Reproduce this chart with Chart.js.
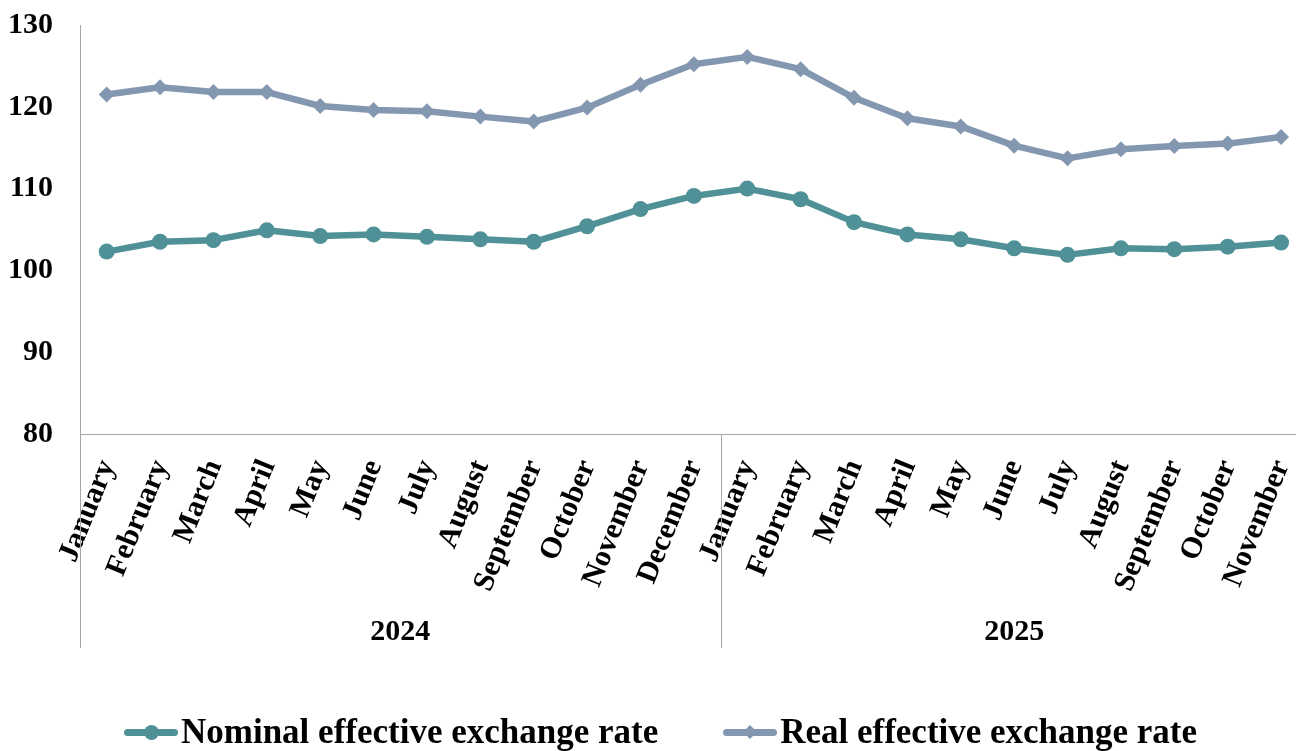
<!DOCTYPE html>
<html lang="en">
<head>
    <meta charset="UTF-8">
    <title>Effective exchange rates</title>
    <script src="https://cdn.jsdelivr.net/npm/chart.js"></script>
    <style>
        html, body {
            margin: 0;
            padding: 0;
            background: #ffffff;
        }
        #wrap {
            position: relative;
            width: 1296px;
            height: 751px;
            overflow: hidden;
        }
        #legend {
            position: absolute;
            left: 124px;
            top: 710px;
            display: flex;
            align-items: center;
            font-family: 'Liberation Serif', 'Times New Roman', serif;
            font-weight: bold;
            font-size: 35px;
            line-height: 44px;
            color: #000;
            white-space: nowrap;
        }
        .item {
            display: flex;
            align-items: center;
            margin-right: 65px;
        }
        .sample {
            position: relative;
            width: 54px;
            height: 16px;
            margin-right: 3px;
        }
        .sample .line {
            position: absolute;
            left: 0;
            right: 0;
            top: 4.5px;
            height: 7px;
            border-radius: 3.5px;
        }
        .sample .dot {
            position: absolute;
            left: 19.5px;
            top: 0.5px;
            width: 15px;
            height: 15px;
            border-radius: 50%;
        }
        .sample .diamond {
            position: absolute;
            left: 22px;
            top: 3px;
            width: 10px;
            height: 10px;
            transform: rotate(45deg);
        }
    </style>
</head>
<body>
<div id="wrap">
    <canvas id="rates-chart" width="1296" height="751"></canvas>
    <div id="legend"></div>
</div>

<script>
    // month labels, grouped by year
    const months2024 = ['January', 'February', 'March', 'April', 'May', 'June', 'July',
        'August', 'September', 'October', 'November', 'December'];
    const months2025 = ['January', 'February', 'March', 'April', 'May', 'June', 'July',
        'August', 'September', 'October', 'November'];
    const years = ['2024', '2025'];
    const monthLabels = [...months2024, ...months2025];

    const nominalRate = [102.3, 103.5, 103.7, 104.9, 104.2, 104.4, 104.1, 103.8, 103.5, 105.4, 107.5, 109.1,
        110.0, 108.7, 105.9, 104.4, 103.8, 102.7, 101.9, 102.7, 102.6, 102.9, 103.4];
    const realRate = [121.5, 122.4, 121.8, 121.8, 120.1, 119.6, 119.45, 118.8, 118.2, 119.9, 122.7, 125.2,
        126.1, 124.6, 121.1, 118.6, 117.6, 115.25, 113.7, 114.8, 115.2, 115.5, 116.3];

    const yTicks = [80, 90, 100, 110, 120, 130];

    const NOMINAL_COLOR = '#4f9197';
    const REAL_COLOR = '#8497b0';
    const AXIS_COLOR = '#a6a6a6';
    const FONT = "'Liberation Serif', 'Times New Roman', serif";

    // month index -> point; the right end of the plot runs past the picture edge
    const toPoints = arr => arr.map((v, i) => ({ x: i, y: v }));
    const X_MAX = 22.28;

    // y axis extension, year separator and year names under the month labels
    const yearGroups = {
        id: 'yearGroups',
        afterDraw(chart) {
            const x = chart.scales.x;
            const ctx = chart.ctx;
            const sizes = [months2024.length, months2025.length];

            ctx.save();
            ctx.strokeStyle = AXIS_COLOR;
            ctx.lineWidth = 1;
            ctx.beginPath();
            ctx.moveTo(x.left + 0.5, x.top);
            ctx.lineTo(x.left + 0.5, x.bottom);
            const split = Math.round(x.getPixelForValue(sizes[0] - 0.5)) + 0.5;
            ctx.moveTo(split, x.top);
            ctx.lineTo(split, x.bottom);
            ctx.stroke();

            ctx.fillStyle = '#000';
            ctx.font = 'bold 30px ' + FONT;
            ctx.textAlign = 'center';
            ctx.textBaseline = 'alphabetic';
            let start = 0;
            years.forEach((yr, i) => {
                const mid = start - 0.5 + sizes[i] / 2;
                ctx.fillText(yr, x.getPixelForValue(mid), x.bottom - 8);
                start += sizes[i];
            });
            ctx.restore();
        }
    };

    // legend as html: line sample with marker, then the series name
    const htmlLegend = {
        id: 'htmlLegend',
        afterUpdate(chart) {
            const box = document.getElementById('legend');
            box.innerHTML = '';
            chart.data.datasets.forEach(ds => {
                const item = document.createElement('div');
                item.className = 'item';
                const marker = ds.pointStyle === 'circle' ? 'dot' : 'diamond';
                item.innerHTML =
                    `<span class="sample"><span class="line" style="background:${ds.borderColor}"></span>` +
                    `<span class="${marker}" style="background:${ds.borderColor}"></span></span>` +
                    `<span>${ds.label}</span>`;
                box.appendChild(item);
            });
        }
    };

    const ctx = document.getElementById('rates-chart').getContext('2d');
    const chart = new Chart(ctx, {
        type: 'line',
        data: {
            datasets: [{
                label: 'Nominal effective exchange rate',
                data: toPoints(nominalRate),
                borderColor: NOMINAL_COLOR,
                backgroundColor: NOMINAL_COLOR,
                borderWidth: 6.5,
                borderJoinStyle: 'round',
                pointStyle: 'circle',
                pointRadius: 8,
                pointHoverRadius: 8,
                pointBorderWidth: 0,
                tension: 0
            }, {
                label: 'Real effective exchange rate',
                data: toPoints(realRate),
                borderColor: REAL_COLOR,
                backgroundColor: REAL_COLOR,
                borderWidth: 6.5,
                borderJoinStyle: 'round',
                pointStyle: 'rectRot',
                pointRadius: 8,
                pointHoverRadius: 8,
                pointBorderWidth: 0,
                tension: 0
            }]
        },
        options: {
            responsive: false,
            animation: false,
            devicePixelRatio: 1,
            layout: {
                autoPadding: false,
                padding: { top: 25, right: 0, bottom: 103, left: 0 }
            },
            plugins: {
                tooltip: { enabled: false },
                legend: { display: false }
            },
            scales: {
                x: {
                    type: 'linear',
                    min: -0.5,
                    max: X_MAX,
                    afterBuildTicks(s) {
                        s.ticks = monthLabels.map((m, i) => ({ value: i }));
                    },
                    grid: { display: false, drawTicks: false },
                    border: { display: true, color: AXIS_COLOR, width: 1 },
                    ticks: {
                        autoSkip: false,
                        minRotation: 68,
                        maxRotation: 68,
                        padding: 21,
                        labelOffset: 1,
                        color: '#000',
                        font: { family: FONT, size: 30, weight: 'bold' },
                        callback: (v, i) => monthLabels[i]
                    },
                    afterFit(s) {
                        s.height = 214;
                        s.paddingLeft = 0;
                        s.paddingRight = 0;
                    }
                },
                y: {
                    min: 80,
                    max: 130,
                    afterBuildTicks(s) {
                        s.ticks = yTicks.map(v => ({ value: v }));
                    },
                    grid: { display: false, drawTicks: false },
                    border: { display: true, color: AXIS_COLOR, width: 1 },
                    ticks: {
                        padding: 27,
                        color: '#000',
                        font: { family: FONT, size: 30, weight: 'bold' }
                    },
                    afterFit(s) {
                        s.width = 80;
                        s.paddingTop = 0;
                        s.paddingBottom = 0;
                    }
                }
            }
        },
        plugins: [yearGroups, htmlLegend]
    });
</script>
</body>
</html>
